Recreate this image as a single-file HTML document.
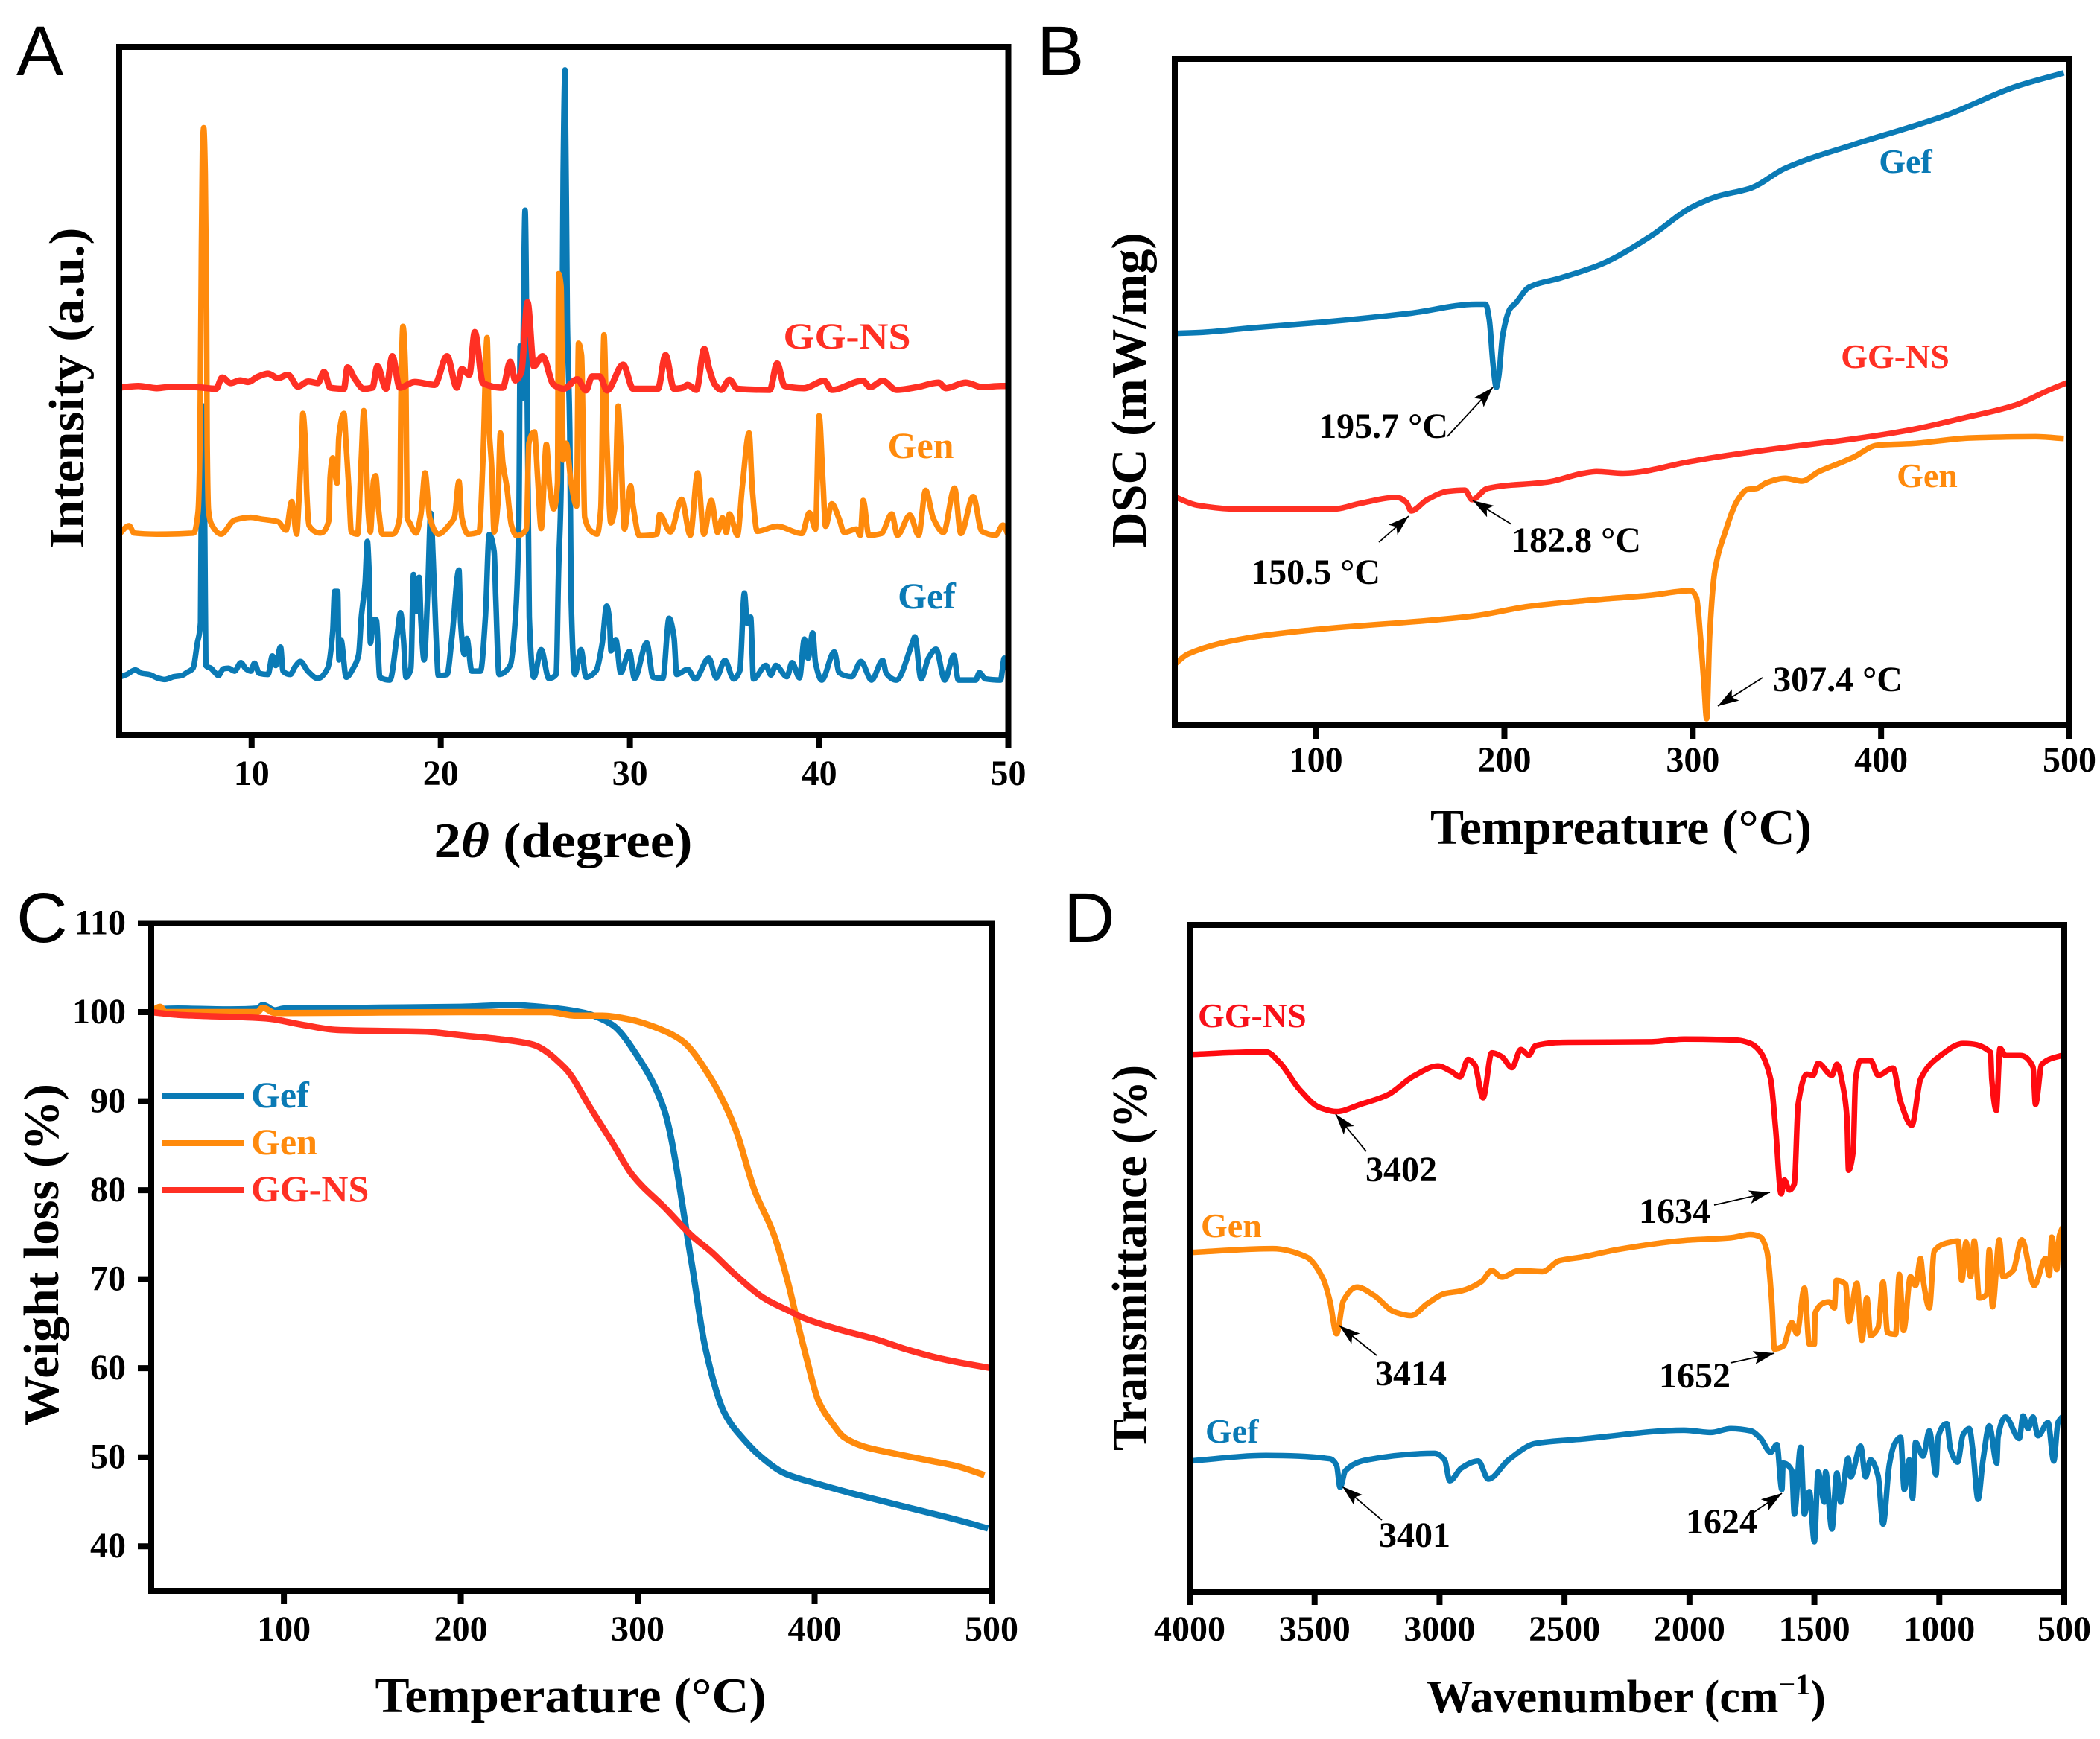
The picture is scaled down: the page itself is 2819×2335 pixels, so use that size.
<!DOCTYPE html>
<html lang="en">
<head>
<meta charset="utf-8">
<title>XRD, DSC, TGA and FTIR of Gef, Gen and GG-NS</title>
<style>
html,body{margin:0;padding:0;background:#fff}
svg{display:block}
text{font-family:"Liberation Serif",serif;font-weight:bold;fill:#000}
.panel-letter{font-family:"Liberation Sans",sans-serif;font-weight:normal;font-size:95px}
.tick{font-size:48px;text-anchor:middle}
.ann{font-size:48px;text-anchor:middle}
.ttl{font-size:67px;text-anchor:middle}
.lab{font-size:50px}
.gef{fill:#0a7ab5}.gen{fill:#ff8a0c}.gg{fill:#ff3024}
.arrow{stroke:#000;stroke-width:1.8;fill:none;marker-end:url(#ah)}
</style>
</head>
<body>
<svg id="fig" xmlns="http://www.w3.org/2000/svg" width="2819" height="2335" viewBox="0 0 2819 2335">
<defs><marker id="ah" markerUnits="userSpaceOnUse" markerWidth="30" markerHeight="20" refX="28" refY="9" orient="auto"><path d="M0 0L28 9L0 18L6 9Z" fill="#000"/></marker></defs>
<rect width="2819" height="2335" fill="#fff"/>
<g id="plots"></g>

<text class="panel-letter" x="22" y="101">A</text>
<text class="panel-letter" x="1392" y="101">B</text>
<text class="panel-letter" x="22" y="1265">C</text>
<text class="panel-letter" x="1428" y="1265">D</text>

<text class="ttl" x="756" y="1151" textLength="347" lengthAdjust="spacingAndGlyphs">2<tspan font-style="italic">θ</tspan> (degree)</text>
<text class="ttl" transform="translate(112,521) rotate(-90)" textLength="431" lengthAdjust="spacingAndGlyphs">Intensity (a.u.)</text>
<text class="ttl" x="2176" y="1133" textLength="512" lengthAdjust="spacingAndGlyphs">Tempreature (°C)</text>
<text class="ttl" transform="translate(1538,524) rotate(-90)" textLength="423" lengthAdjust="spacingAndGlyphs">DSC (mW/mg)</text>
<text class="ttl" x="766" y="2299" textLength="525" lengthAdjust="spacingAndGlyphs">Temperature (°C)</text>
<text class="ttl" transform="translate(78,1685) rotate(-90)" textLength="460" lengthAdjust="spacingAndGlyphs">Weight loss (%)</text>
<text class="ttl" x="2183" y="2299" style="font-size:62px">Wavenumber (cm<tspan font-size="40" dy="-24">−1</tspan><tspan dy="24">)</tspan></text>
<text class="ttl" transform="translate(1539,1689) rotate(-90)" textLength="518" lengthAdjust="spacingAndGlyphs">Transmittance (%)</text>

<text class="lab gg" x="1137" y="468" text-anchor="middle" textLength="171" lengthAdjust="spacingAndGlyphs">GG-NS</text>
<text class="lab gen" x="1236" y="615" text-anchor="middle">Gen</text>
<text class="lab gef" x="1244" y="817" text-anchor="middle">Gef</text>

<text class="lab gef" x="2558" y="232" text-anchor="middle" style="font-size:46px">Gef</text>
<text class="lab gg" x="2544" y="494" text-anchor="middle" style="font-size:46px">GG-NS</text>
<text class="lab gen" x="2587" y="654" text-anchor="middle" style="font-size:46px">Gen</text>

<text class="ann" x="1857" y="588">195.7 °C</text>
<text class="ann" x="1766" y="784">150.5 °C</text>
<text class="ann" x="2116" y="741">182.8 °C</text>
<text class="ann" x="2467" y="928">307.4 °C</text>
<line class="arrow" x1="1943" y1="586" x2="2004" y2="520"/>
<line class="arrow" x1="1851" y1="728" x2="1891" y2="693"/>
<line class="arrow" x1="2029" y1="704" x2="1977" y2="672"/>
<line class="arrow" x1="2366" y1="910" x2="2306" y2="948"/>

<g>
<line x1="218" x2="327" y1="1472" y2="1472" stroke="#0a7ab5" stroke-width="8"/>
<line x1="218" x2="327" y1="1535" y2="1535" stroke="#ff8a0c" stroke-width="8"/>
<line x1="218" x2="327" y1="1598" y2="1598" stroke="#ff3024" stroke-width="8"/>
<text class="lab gef" x="337" y="1487">Gef</text>
<text class="lab gen" x="337" y="1550">Gen</text>
<text class="lab gg" x="337" y="1613">GG-NS</text>
</g>

<text class="lab" x="1608" y="1379" style="font-size:46px;fill:#f8101a">GG-NS</text>
<text class="lab gen" x="1612" y="1661" style="font-size:46px">Gen</text>
<text class="lab gef" x="1618" y="1937" style="font-size:46px">Gef</text>
<text class="ann" x="1881" y="1586">3402</text>
<text class="ann" x="2248" y="1642">1634</text>
<text class="ann" x="1894" y="1860">3414</text>
<text class="ann" x="2275" y="1863">1652</text>
<text class="ann" x="1899" y="2077">3401</text>
<text class="ann" x="2311" y="2059">1624</text>
<line class="arrow" x1="1834" y1="1546" x2="1793" y2="1496"/>
<line class="arrow" x1="2301" y1="1618" x2="2376" y2="1601"/>
<line class="arrow" x1="1848" y1="1820" x2="1798" y2="1780"/>
<line class="arrow" x1="2323" y1="1830" x2="2382" y2="1817"/>
<line class="arrow" x1="1855" y1="2041" x2="1802" y2="1996"/>
<line class="arrow" x1="2352" y1="2032" x2="2392" y2="2005"/>
</svg>

<script>
// ---- Panel A: XRD ----
const xrdTicks = [10, 20, 30, 40, 50];
const xrdGefTheta = [3,3.4,3.85,4.2,4.6,5,5.4,5.9,6.3,6.6,6.9,7.13,7.3,7.36,7.45,7.53,7.58,7.85,8.05,8.25,8.5,8.77,9.1,9.43,9.7,9.96,10.15,10.4,10.87,11.1,11.27,11.53,11.66,12.05,12.3,12.58,12.97,13.5,14.02,14.29,14.39,14.55,14.62,14.72,15,15.4,15.66,15.8,16,16.12,16.2,16.28,16.45,16.59,16.78,17.31,17.7,17.87,18.03,18.16,18.42,18.56,18.69,18.86,18.95,19.12,19.3,19.47,19.6,19.74,19.87,20.33,20.59,20.96,21.05,21.25,21.38,21.64,22.1,22.36,22.56,22.82,22.91,23.08,23.67,23.94,24.13,24.2,24.3,24.46,24.59,24.68,24.92,25.31,25.71,26.1,26.23,26.36,26.47,26.57,26.69,26.82,26.89,27.09,27.41,27.68,28.2,28.53,28.77,28.92,29,29.25,29.51,29.97,30.24,30.89,31.22,31.74,32.07,32.33,32.47,33.05,33.45,34.17,34.56,35.02,35.48,35.81,36.05,36.2,36.38,36.53,37.19,37.45,37.71,38.3,38.57,38.96,39.22,39.42,39.66,39.81,40.14,40.8,41.06,41.72,42.21,42.77,43.36,43.55,44.08,44.93,45.06,45.39,45.78,46.18,46.64,47.12,47.36,48.28,48.47,48.8,49.59,49.79,50];
const xrdGefI = [103,108,116,110,108,102,99,104,106,112,119,164,200,510,586,337,124,119,112,106,118,119,114,129,118,114,128,110,108,141,124,157,114,108,122,131,114,101,119,185,256,256,134,170,103,121,144,210,271,345,300,164,205,205,103,98,180,218,169,103,119,286,220,281,205,134,246,395,312,185,106,108,174,294,200,144,172,114,114,210,357,327,241,108,124,205,388,693,600,935,540,210,103,152,101,108,296,439,1000,1185,736,540,246,108,152,103,114,162,230,205,150,170,111,149,101,164,103,101,208,174,108,117,100,137,102,133,100,115,253,199,210,100,124,107,124,104,129,102,171,137,182,129,98,148,111,104,131,98,133,110,98,164,175,100,137,153,98,142,98,98,111,100,98,137,115];
const xrdGenTheta = [3,3.52,3.79,4.97,6.94,7.17,7.27,7.33,7.4,7.47,7.55,7.62,7.65,7.72,7.92,8.38,9.1,9.96,10.48,11.4,11.82,12.12,12.38,12.51,12.65,12.71,12.84,12.91,13.04,13.63,14.09,14.15,14.29,14.39,14.52,14.61,14.88,15,15.14,15.27,15.6,15.8,15.93,16.06,16.16,16.28,16.45,16.56,16.71,16.91,17.44,17.83,17.9,18,18.16,18.22,18.36,18.69,18.95,19.17,19.41,19.87,20.46,20.72,20.96,21.11,21.44,22.03,22.23,22.45,22.56,22.69,22.82,23.02,23.15,23.28,23.48,23.74,24,24.53,24.66,24.95,25.12,25.31,25.58,25.77,25.97,26.17,26.23,26.36,26.47,26.63,26.89,27.18,27.28,27.44,27.61,28,28.27,28.46,28.63,28.79,28.99,29.19,29.38,29.51,29.71,30.04,30.17,30.5,31.42,31.57,32.14,32.73,33.19,33.58,33.91,34.3,34.63,34.89,35.09,35.26,35.68,35.94,36.3,36.47,36.73,37.78,39.09,39.49,39.81,40,40.21,40.34,40.67,41.06,41.32,41.98,42.18,42.33,42.63,43.29,43.84,44.14,44.8,45.26,45.63,46.05,46.57,47.16,47.49,48.15,48.6,49.33,49.72,50];
const xrdGenI = [358,373,360,358,360,398,520,800,1040,1082,1000,760,520,400,373,358,383,388,385,380,365,416,358,423,520,573,520,434,373,360,383,459,494,472,449,530,573,515,439,362,358,494,578,494,398,362,454,462,403,358,358,388,616,728,616,388,378,360,393,467,388,358,375,388,452,388,358,362,490,708,545,479,362,413,538,485,444,373,355,367,520,540,459,368,518,439,403,449,822,799,490,520,449,408,698,677,388,362,358,403,713,515,378,403,586,515,367,444,408,355,358,393,362,420,356,467,358,418,361,387,361,394,356,443,538,438,363,372,359,396,367,569,447,372,412,385,361,367,356,418,356,359,394,356,392,356,436,385,361,440,359,425,363,356,374,356];
const xrdGgTheta = [3,4,5,5.62,7,8.12,8.45,8.9,9.4,9.82,10.3,10.87,11.4,11.92,12.45,13,13.5,13.83,14.15,14.88,15.07,15.47,15.93,16.39,16.65,17.11,17.44,17.83,18.62,19.67,20.33,20.85,21.11,21.51,21.8,22.23,23.28,23.67,23.94,24.26,24.59,24.92,25.38,25.97,26.5,27.22,27.68,28,28.4,28.79,29.64,30.17,31.48,31.88,32.33,32.8,33.05,33.51,33.93,34.17,34.5,34.83,35.26,35.68,37.39,37.78,38.17,39.2,40.27,40.67,42.31,42.7,43.36,44.08,45.2,46.31,46.7,47.75,48.6,49.59,50];
const xrdGgI = [619,622,618,620,620,617,637,627,632,629,638,644,636,642,621,630,627,647,619,617,655,634,617,619,657,617,675,619,629,624,675,619,652,642,718,627,619,665,632,647,771,657,675,624,617,634,614,639,639,614,660,617,617,677,617,619,624,615,688,655,624,615,633,617,615,662,622,618,631,615,631,620,631,615,620,628,618,628,620,622,622];

// ---- Panel B: DSC ----
const dscTicks = [100, 200, 300, 400, 500];
const dscGefT = [25,40,66,100,150,185,190,192,194,195.7,197,199,203,206,213,230,252,278,299,313,331,349,385,417,435,471,497];
const dscGefV = [698,700,708,717,734,750,750,722,642,602,622,692,742,752,780,797,822,872,922,942,957,992,1034,1067,1087,1137,1162];
const dscGgT = [25,37,59,109,123,143,148,150.5,159,170,179,182.8,191,224,242,249,263,299,313,349,385,417,443,471,489,500];
const dscGgV = [407,392,385,385,395,406,397,382,402,417,419,402,422,434,449,452,449,470,478,495,510,527,547,570,597,612];
const dscGenT = [25,32,66,98,184,213,242,278,299,302,304,306,307.4,309,311.6,317,324,329,334,339,349,358,367,378,385,398,417,448,482,497];
const dscGenV = [109,127,157,170,195,212,222,232,240,227,162,72,12,162,272,342,402,420,422,432,440,435,452,467,477,499,502,512,514,511];

// ---- Panel C: TGA ----
const tgaXTicks = [100, 200, 300, 400, 500];
const tgaYTicks = [40, 50, 60, 70, 80, 90, 100, 110];
const tgaGefT = [25,40,70,85,88,95,100,150,200,228,250,270,285.5,300,315,330.5,338,349,360,370,383,402,420,440,460,480,498];
const tgaGefW = [100.3,100.4,100.3,100.4,100.8,100.2,100.4,100.5,100.6,100.8,100.5,99.9,98.6,95,89,71.8,62.5,55,52,50,48.2,47,46,45,44,43,42];
const tgaGenT = [25,30,33,40,85,88,95,100,200,250,265,280,295,310,325,340,355,366,377,385,390.5,396,402,409.3,417,428,443,465.6,480.6,496];
const tgaGenW = [100,100.6,100,100,100,100.5,99.9,99.9,100,100,99.6,99.6,99.2,98.3,96.8,93,87,80,75,69.6,65,60.7,56.4,54,52.2,51.2,50.5,49.6,49,48];
const tgaGgT = [25,40,90,110,130,180,200,220,240,259,274,285.5,297,315.5,330.5,342,353,372,385,394.3,413,435.6,450.6,473,500];
const tgaGgW = [100,99.7,99.3,98.6,98,97.8,97.4,97,96.4,93.7,89,85.4,81.7,78,74.9,73,70.9,67.8,66.5,65.6,64.4,63.2,62.2,61,60];

// ---- Panel D: FTIR ----
const ftirTicks = [4000, 3500, 3000, 2500, 2000, 1500, 1000, 500];
const ftirGgW = [4000,3695,3641,3560,3479,3412,3317,3209,3102,3007,2953,2918,2886,2859,2826,2791,2751,2710,2675,2643,2616,2508,2157,2022,1807,1755,1720,1675,1655,1633,1620,1600,1580,1565,1530,1505,1485,1430,1410,1385,1370,1363,1345,1335,1315,1275,1245,1185,1155,1110,1075,995,905,795,790,772,757,735,675,625,615,590,500];
const ftirGgV = [979,984,965,915,882,875,888,905,940,958,948,938,970,960,900,982,975,955,988,978,995,1001,1002,1007,1005,999,986,934,843,725,750,732,743,888,943,941,963,941,961,920,866,768,802,934,968,968,941,954,893,850,934,977,999,983,934,877,990,977,977,956,888,961,979];
const ftirGenW = [4000,3668,3533,3466,3439,3412,3385,3331,3263,3182,3115,3048,2980,2913,2832,2791,2751,2683,2589,2521,2427,2292,2022,1834,1755,1715,1690,1670,1660,1625,1590,1570,1540,1520,1500,1497,1440,1420,1412,1375,1362,1330,1310,1290,1275,1245,1225,1207,1175,1160,1143,1115,1095,1075,1065,1040,1020,955,925,910,893,875,860,840,810,800,787,760,745,705,670,620,575,560,550,530,520,500];
const ftirGenV = [618,625,610,570,530,470,530,555,540,510,503,525,543,548,565,585,573,585,583,603,610,623,640,645,651,646,621,526,442,447,490,470,553,451,451,508,528,517,567,560,492,562,458,535,467,481,564,472,469,578,476,574,558,607,569,517,621,637,639,567,637,574,639,535,542,623,519,641,574,585,641,558,607,576,646,587,648,669];
const ftirGefW = [4000,3695,3439,3412,3398,3377,3290,3021,2980,2959,2913,2845,2805,2724,2616,2427,2022,1914,1834,1755,1715,1675,1650,1630,1625,1590,1580,1555,1540,1520,1500,1485,1460,1455,1430,1410,1395,1365,1355,1315,1295,1275,1245,1225,1200,1180,1155,1140,1120,1107,1095,1065,1040,1013,1005,970,955,927,905,880,865,845,825,800,770,765,735,680,665,645,625,605,565,542,525,500];
const ftirGefV = [238,248,242,230,190,220,240,252,240,202,225,238,205,240,270,278,294,290,297,293,279,254,268,186,234,220,141,263,141,182,91,218,163,218,114,216,163,243,209,265,209,240,211,123,231,268,281,186,240,170,272,247,293,213,281,306,259,236,286,297,254,168,240,302,234,281,318,279,320,297,318,284,308,238,308,322];

const fig = document.getElementById('plots');
const NS = 'http://www.w3.org/2000/svg';

function linear(d0, d1, r0, r1) {
  return v => r0 + (v - d0) * (r1 - r0) / (d1 - d0);
}
function monotonePath(px, py) {
  const n = px.length;
  const h = [], s = [], m = [];
  for (let i = 0; i < n - 1; i++) {
    h[i] = Math.max(px[i + 1] - px[i], 0.01);
    s[i] = (py[i + 1] - py[i]) / h[i];
  }
  m[0] = s[0];
  m[n - 1] = s[n - 2];
  for (let i = 1; i < n - 1; i++) {
    m[i] = s[i - 1] * s[i] <= 0 ? 0 : 3 * (h[i - 1] + h[i]) / ((2 * h[i] + h[i - 1]) / s[i - 1] + (h[i] + 2 * h[i - 1]) / s[i]);
  }
  let d = 'M' + px[0].toFixed(1) + ' ' + py[0].toFixed(1);
  for (let i = 0; i < n - 1; i++) {
    const t = h[i] / 3;
    d += 'C' + (px[i] + t).toFixed(1) + ' ' + (py[i] + m[i] * t).toFixed(1) + ' ' + (px[i + 1] - t).toFixed(1) + ' ' + (py[i + 1] - m[i + 1] * t).toFixed(1) + ' ' + px[i + 1].toFixed(1) + ' ' + py[i + 1].toFixed(1);
  }
  return d;
}
function drawLine(xs, ys, sx, sy, color, width, name) {
  const n = Math.min(xs.length, ys.length);
  const px = [], py = [];
  for (let i = 0; i < n; i++) {
    px.push(sx(xs[i]));
    py.push(sy(ys[i]));
  }
  const el = document.createElementNS(NS, 'path');
  el.setAttribute('d', monotonePath(px, py));
  el.setAttribute('fill', 'none');
  el.setAttribute('stroke', color);
  el.setAttribute('stroke-width', width);
  el.setAttribute('stroke-linejoin', 'round');
  
  
  fig.appendChild(el);
}
function drawFrame(l, t, r, b, name) {
  const el = document.createElementNS(NS, 'rect');
  el.setAttribute('x', l);
  el.setAttribute('y', t);
  el.setAttribute('width', r - l);
  el.setAttribute('height', b - t);
  el.setAttribute('fill', 'none');
  el.setAttribute('stroke', '#000');
  el.setAttribute('stroke-width', 8);
  
  
  fig.appendChild(el);
}
function xTicks(vals, sx, b, labelY, prefix) {
  vals.forEach(v => {
    const m = document.createElementNS(NS, 'line');
    m.setAttribute('x1', sx(v));
    m.setAttribute('x2', sx(v));
    m.setAttribute('y1', b);
    m.setAttribute('y2', b + 18);
    m.setAttribute('stroke', '#000');
    m.setAttribute('stroke-width', 8);
    
    
    fig.appendChild(m);
    const t = document.createElementNS(NS, 'text');
    t.setAttribute('class', 'tick');
    t.setAttribute('x', sx(v));
    t.setAttribute('y', labelY);
    t.textContent = v;
    
    
    fig.appendChild(t);
  });
}
function yTicks(vals, sy, l, labelX, prefix) {
  vals.forEach(v => {
    const m = document.createElementNS(NS, 'line');
    m.setAttribute('x1', l - 18);
    m.setAttribute('x2', l);
    m.setAttribute('y1', sy(v));
    m.setAttribute('y2', sy(v));
    m.setAttribute('stroke', '#000');
    m.setAttribute('stroke-width', 8);
    
    
    fig.appendChild(m);
    const t = document.createElementNS(NS, 'text');
    t.setAttribute('class', 'tick');
    t.setAttribute('x', labelX);
    t.setAttribute('y', sy(v) + 15);
    t.setAttribute('style', 'text-anchor:end');
    t.textContent = v;
    
    
    fig.appendChild(t);
  });
}

const BLUE = '#0a7ab5', ORANGE = '#ff8a0c', RED = '#ff3024';

// Panel A
{
  const L = 160, R = 1353.5, T = 63, B = 987;
  const sx = linear(3, 50, L, R), sy = linear(0, 1226, B, T);
  drawLine(xrdGefTheta, xrdGefI, sx, sy, BLUE, 7.5, 'a-series-gef');
  drawLine(xrdGenTheta, xrdGenI, sx, sy, ORANGE, 7.5, 'a-series-gen');
  drawLine(xrdGgTheta, xrdGgI, sx, sy, RED, 8.5, 'a-series-gg-ns');
  drawFrame(L, T, R, B, 'a-plot-frame');
  xTicks(xrdTicks, sx, B, 1054, 'a');
}
// Panel B
{
  const L = 1577, R = 2778, T = 79, B = 974;
  const sx = linear(25, 500, L, R), sy = linear(0, 1187, B, T);
  drawLine(dscGefT, dscGefV, sx, sy, BLUE, 7.5, 'b-series-gef');
  drawLine(dscGgT, dscGgV, sx, sy, RED, 7.5, 'b-series-gg-ns');
  drawLine(dscGenT, dscGenV, sx, sy, ORANGE, 7.5, 'b-series-gen');
  drawFrame(L, T, R, B, 'b-plot-frame');
  xTicks(dscTicks, sx, B, 1036, 'b');
}
// Panel C
{
  const L = 203, R = 1331, T = 1239.5, B = 2136;
  const sx = linear(25, 500, L, R), sy = linear(35, 110, B, T);
  drawLine(tgaGefT, tgaGefW, sx, sy, BLUE, 8.5, 'c-series-gef');
  drawLine(tgaGenT, tgaGenW, sx, sy, ORANGE, 8.5, 'c-series-gen');
  drawLine(tgaGgT, tgaGgW, sx, sy, RED, 8.5, 'c-series-gg-ns');
  drawFrame(L, T, R, B, 'c-plot-frame');
  xTicks(tgaXTicks, sx, B, 2203, 'c');
  yTicks(tgaYTicks, sy, L, 169, 'c');
}
// Panel D
{
  const L = 1597, R = 2771, T = 1242, B = 2137;
  const sx = linear(4000, 500, L, R), sy = linear(0, 1215, B, T);
  drawLine(ftirGefW, ftirGefV, sx, sy, BLUE, 7.5, 'd-series-gef');
  drawLine(ftirGenW, ftirGenV, sx, sy, ORANGE, 7.5, 'd-series-gen');
  drawLine(ftirGgW, ftirGgV, sx, sy, '#ff0a10', 7.5, 'd-series-gg-ns');
  drawFrame(L, T, R, B, 'd-plot-frame');
  xTicks(ftirTicks, sx, B, 2203, 'd');
}
</script>
</body>
</html>
